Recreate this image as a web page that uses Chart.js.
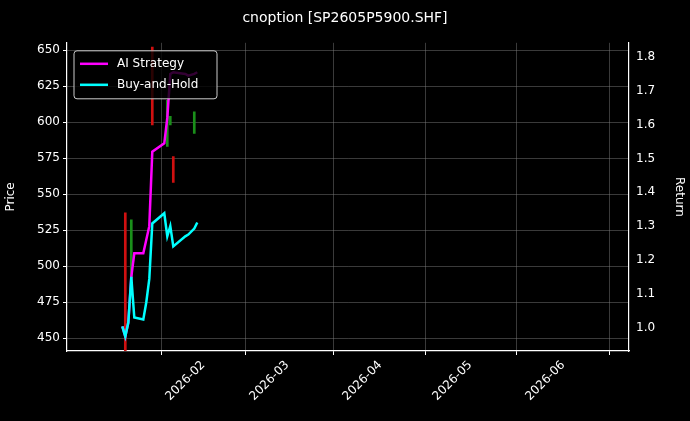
<!DOCTYPE html><html><head><script src="https://cdn.jsdelivr.net/npm/chart.js@4"></script>
<style>html,body{margin:0;background:#000}#w{width:690px;height:421px}</style></head><body><div id="w"><canvas id="c"></canvas></div><script>
const dates=["2026-01-05","2026-01-06","2026-01-07","2026-01-08","2026-01-09","2026-01-12","2026-01-13","2026-01-14","2026-01-15","2026-01-19","2026-01-20","2026-01-21","2026-01-22","2026-01-26","2026-01-27","2026-01-29","2026-01-30"];
const aiStrategy=[1.004,0.974,1.015,1.15,1.22,1.22,1.26,1.30,1.52,1.545,1.62,1.75,1.755,1.75,1.745,1.75,1.755];
const buyHold=[1.004,0.974,1.015,1.15,1.03,1.024,1.075,1.144,1.308,1.338,1.27,1.30,1.24,1.27,1.275,1.293,1.311];
const candleDates=["2026-01-06","2026-01-08","2026-01-15","2026-01-20","2026-01-21","2026-01-22","2026-01-29"];
const candleLow=[441,492,598,583,598,558,592];
const candleHigh=[537,532,652,615,604,576,607];
const candleUp=[false,true,false,true,true,false,true];
const monthTicks=["2026-02-01","2026-03-01","2026-04-01","2026-05-01","2026-06-01"];
const F="DejaVu Sans";
const toDay=s=>(Date.UTC(+s.slice(0,4),+s.slice(5,7)-1,+s.slice(8,10))-Date.UTC(2026,0,1))/864e5;
const tickDays=monthTicks.map(toDay);
const legendPlugin={id:"lg",afterDraw(ch){const c=ch.ctx,a=ch.chartArea;const x=a.left+7,y=a.top+8,w=143,h=48;c.save();c.fillStyle="rgba(0,0,0,0.8)";c.strokeStyle="#ccc";c.lineWidth=1;c.beginPath();c.roundRect(x,y,w,h,3);c.fill();c.stroke();c.font="12px "+F;c.textBaseline="middle";[["AI Strategy","#ff00ff"],["Buy-and-Hold","#00ffff"]].forEach((it,i)=>{const yy=y+13+i*21;c.strokeStyle=it[1];c.lineWidth=2.5;c.beginPath();c.moveTo(x+6,yy);c.lineTo(x+34,yy);c.stroke();c.fillStyle="#fff";c.fillText(it[0],x+43,yy);});c.restore();}};
new Chart(document.getElementById("c"),{data:{datasets:[
{type:"bar",yAxisID:"y",data:candleDates.map((d,i)=>({x:toDay(d),y:[candleLow[i],candleHigh[i]]})),backgroundColor:candleUp.map(u=>u?"#1a8f1a":"#d01010"),barThickness:2,order:3},
{type:"line",label:"AI Strategy",yAxisID:"y1",data:dates.map((d,i)=>({x:toDay(d),y:aiStrategy[i]})),borderColor:"#ff00ff",borderWidth:2.5,pointRadius:0,tension:0,order:1},
{type:"line",label:"Buy-and-Hold",yAxisID:"y1",data:dates.map((d,i)=>({x:toDay(d),y:buyHold[i]})),borderColor:"#00ffff",borderWidth:2.5,pointRadius:0,tension:0,order:0}]},
options:{responsive:true,maintainAspectRatio:false,animation:false,
plugins:{legend:{display:false},tooltip:{enabled:false},title:{display:true,text:"cnoption [SP2605P5900.SHF]",color:"#fff",font:{family:F,size:14,weight:"normal"},padding:{top:10,bottom:16}}},
scales:{x:{type:"linear",min:4.3,max:154.2,afterBuildTicks:s=>{s.ticks=tickDays.map(v=>({value:v}))},
ticks:{color:"#fff",font:{family:F,size:12},maxRotation:45,minRotation:45,autoSkip:false,callback:(v,i)=>monthTicks[i].slice(0,7)},
grid:{color:"rgba(128,128,128,0.45)",tickColor:"#fff",tickLength:4},border:{color:"#fff",width:1.2},afterFit:s=>{s.height=70}},
y:{position:"left",min:441,max:655,afterBuildTicks:s=>{s.ticks=[450,475,500,525,550,575,600,625,650].map(v=>({value:v}))},ticks:{color:"#fff",font:{family:F,size:12}},title:{display:true,text:"Price",color:"#fff",font:{family:F,size:12}},grid:{color:"rgba(128,128,128,0.45)",tickColor:"#fff",tickLength:4},border:{color:"#fff",width:1.2},afterFit:s=>{s.width=67}},
y1:{position:"right",min:0.931,max:1.842,afterBuildTicks:s=>{s.ticks=[1.0,1.1,1.2,1.3,1.4,1.5,1.6,1.7,1.8].map(v=>({value:v}))},ticks:{color:"#fff",font:{family:F,size:12},callback:v=>v.toFixed(1)},title:{display:true,text:"Return",color:"#fff",font:{family:F,size:12}},grid:{display:false,tickColor:"#fff",tickLength:4},border:{color:"#fff",width:1.2},afterFit:s=>{s.width=61}}}},
plugins:[legendPlugin,{id:"bg",beforeDraw(ch){const c=ch.ctx;c.save();c.fillStyle="#000";c.fillRect(0,0,ch.width,ch.height);c.restore();}}]});
</script></body></html>
